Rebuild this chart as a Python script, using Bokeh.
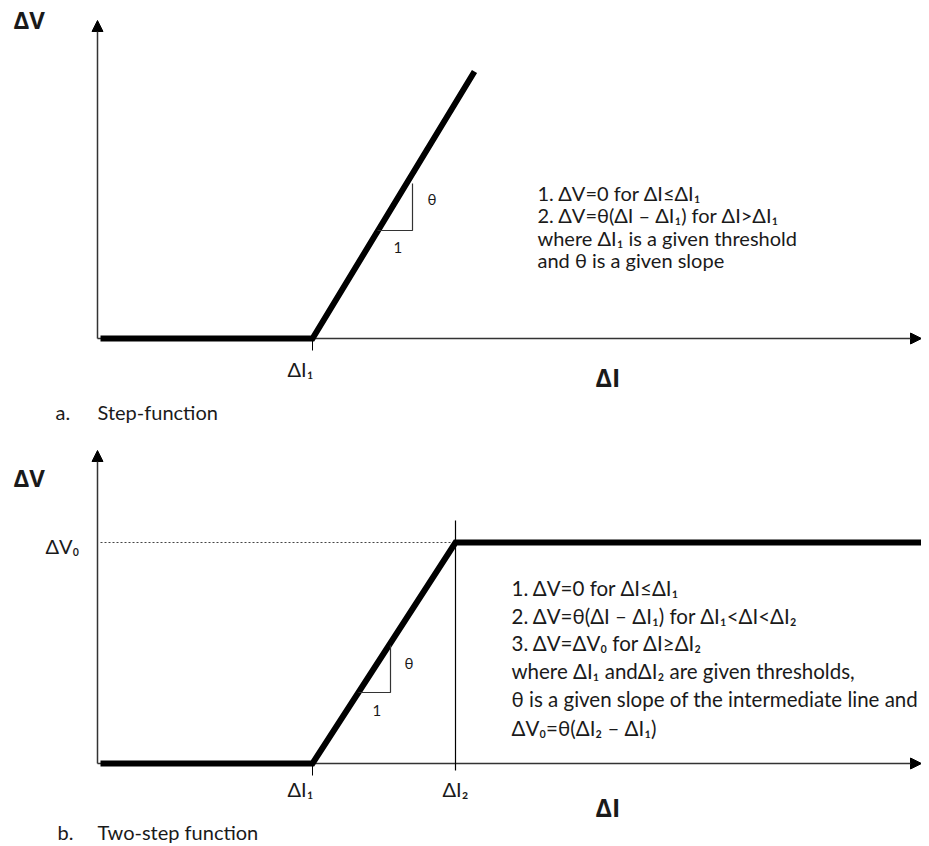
from bokeh.plotting import figure
from bokeh.models import Range1d, Arrow, NormalHead
from bokeh.layouts import column
from bokeh.core.properties import value
from bokeh.embed import file_html
from bokeh.resources import INLINE

FONT = "Lato"
BOLD_FONT = "Open Sans"

# ---------------- data (panel a: step function) ----------------
a_dI1 = 2.15
a_line_x = [0.03, 2.15, 3.77]
a_line_y = [0.0, 0.0, 2.67]
a_yaxis_top = 3.18
a_xaxis_end = 8.24
a_tri_x = [2.80, 3.15, 3.15]
a_tri_y = [1.08, 1.08, 1.55]
a_notes = ["1. ΔV=0 for ΔI≤ΔI₁",
           "2. ΔV=θ(ΔI – ΔI₁) for ΔI>ΔI₁",
           "where ΔI₁ is a given threshold",
           "and θ is a given slope"]
a_notes_y = [1.46, 1.24, 1.01, 0.79]

# ---------------- data (panel b: two-step function) ----------------
b_dI1 = 2.15
b_dI2 = 3.58
b_dV0 = 2.21
b_line_x = [0.03, 2.15, 3.58, 8.24]
b_line_y = [0.0, 0.0, 2.21, 2.21]
b_yaxis_top = 3.13
b_xaxis_end = 8.24
b_tri_x = [2.61, 2.93, 2.93]
b_tri_y = [0.71, 0.71, 1.18]
b_notes = ["1. ΔV=0 for ΔI≤ΔI₁",
           "2. ΔV=θ(ΔI – ΔI₁) for ΔI₁<ΔI<ΔI₂",
           "3. ΔV=ΔV₀ for ΔI≥ΔI₂",
           "where ΔI₁ andΔI₂  are given thresholds,",
           "θ is a given slope  of the intermediate line and",
           "ΔV₀=θ(ΔI₂ – ΔI₁)"]
b_notes_y = [1.76, 1.48, 1.21, 0.93, 0.65, 0.36]

W = 921


def make_fig(h, y0, y1):
    p = figure(width=W, height=h, x_range=Range1d(-0.97, -0.97 + W / 100),
               y_range=Range1d(y0, y1), output_backend="svg",
               toolbar_location=None, x_axis_type=None, y_axis_type=None,
               min_border=0)
    p.outline_line_color = None
    p.grid.visible = False
    p.background_fill_color = "white"
    return p


def axes(p, ytop, xend):
    p.add_layout(Arrow(end=NormalHead(size=11, fill_color="black", line_color="black"),
                       x_start=0, y_start=0, x_end=0, y_end=ytop,
                       line_width=1.5, line_color="#333333", level="underlay"))
    p.add_layout(Arrow(end=NormalHead(size=11, fill_color="black", line_color="black"),
                       x_start=0, y_start=0, x_end=xend, y_end=0,
                       line_width=1.5, line_color="#333333", level="underlay"))


def txt(p, x, y, s, size="15px", bold=False, align="left"):
    p.text(x=[x], y=[y], text=[s], text_font=value(BOLD_FONT if bold else FONT),
           text_font_size=size, text_font_style="bold" if bold else "normal",
           text_align=align, text_baseline="middle", text_color="#1a1a1a")


# ---------------- panel a ----------------
pa = make_fig(428, -0.90, 3.38)
axes(pa, a_yaxis_top, a_xaxis_end)
pa.line(a_line_x, a_line_y, line_width=6, line_color="black", line_join="miter")
pa.segment(x0=[a_dI1], y0=[0], x1=[a_dI1], y1=[-0.12], line_color="black", line_width=1)
pa.line(a_tri_x, a_tri_y, line_color="#333333", line_width=1.2)
txt(pa, 3.30, 1.40, "θ", "15px")
txt(pa, 2.96, 0.91, "1", "15px")
for s, y in zip(a_notes, a_notes_y):
    txt(pa, 4.40, y, s, "20px")
txt(pa, -0.84, 3.19, "ΔV", "24px", bold=True)
txt(pa, 1.90, -0.30, "ΔI₁", "20px")
txt(pa, 4.98, -0.38, "ΔI", "25px", bold=True)
txt(pa, -0.42, -0.73, "a.", "20px")
txt(pa, 0.0, -0.73, "Step-function", "20px")

# ---------------- panel b ----------------
pb = make_fig(416, -0.81, 3.35)
axes(pb, b_yaxis_top, b_xaxis_end)
pb.line([0.03, b_dI2], [b_dV0, b_dV0], line_color="#444444", line_width=1, line_dash="2 2")
pb.segment(x0=[b_dI2], y0=[-0.07], x1=[b_dI2], y1=[2.43], line_color="black", line_width=1.2)
pb.line(b_line_x, b_line_y, line_width=6, line_color="black", line_join="miter")
pb.segment(x0=[b_dI1], y0=[0], x1=[b_dI1], y1=[-0.12], line_color="black", line_width=1)
pb.line(b_tri_x, b_tri_y, line_color="#333333", line_width=1.2)
txt(pb, 3.07, 1.01, "θ", "15px")
txt(pb, 2.75, 0.53, "1", "15px")
for s, y in zip(b_notes, b_notes_y):
    txt(pb, 4.14, y, s, "20.5px")
txt(pb, -0.84, 2.86, "ΔV", "24px", bold=True)
txt(pb, -0.52, 2.18, "ΔV₀", "20px")
txt(pb, 1.90, -0.25, "ΔI₁", "20px")
txt(pb, 3.45, -0.25, "ΔI₂", "20px")
txt(pb, 4.98, -0.43, "ΔI", "25px", bold=True)
txt(pb, -0.40, -0.68, "b.", "20px")
txt(pb, 0.0, -0.68, "Two-step function", "20px")

layout = column(pa, pb, spacing=0)
open("out.html", "w").write(file_html(layout, INLINE))
